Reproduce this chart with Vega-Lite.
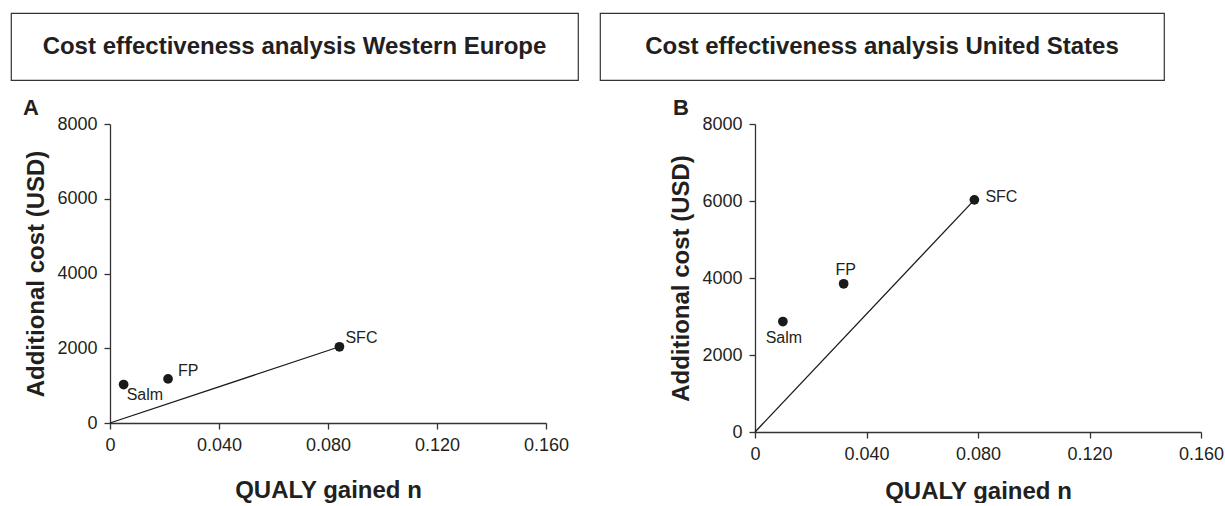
{
  "$schema": "https://vega.github.io/schema/vega-lite/v6.json",
  "padding": {"left": 10, "top": 12, "right": 0, "bottom": 0},
  "background": "white",
  "config": {
    "font": "Liberation Sans",
    "view": {"stroke": null},
    "axis": {
      "labelFont": "Liberation Sans", "labelFontSize": 18, "labelColor": "#231f20",
      "titleFont": "Liberation Sans", "titleFontSize": 24, "titleFontWeight": "bold", "titleColor": "#231f20",
      "domainColor": "#333333", "tickColor": "#333333", "tickSize": 6, "domainWidth": 1.3, "tickWidth": 1.3,
      "grid": false, "labelPadding": 7
    },
    "text": {"font": "Liberation Sans", "color": "#231f20"}
  },
  "datasets": {
    "europe": [
      {"name": "Salm", "qaly": 0.005, "cost": 1030},
      {"name": "FP", "qaly": 0.0213, "cost": 1180},
      {"name": "SFC", "qaly": 0.0842, "cost": 2040}
    ],
    "us": [
      {"name": "Salm", "qaly": 0.0100, "cost": 2870},
      {"name": "FP", "qaly": 0.0318, "cost": 3850},
      {"name": "SFC", "qaly": 0.0787, "cost": 6030}
    ]
  },
  "spacing": 16,
  "vconcat": [
    {
      "spacing": 20,
      "hconcat": [
        {
          "data": {"values": [{"label": "Cost effectiveness analysis Western Europe"}]},
          "width": 567, "height": 67,
          "view": {"stroke": "#333333", "strokeWidth": 1.2},
          "mark": {"type": "text", "fontSize": 24, "fontWeight": "bold", "align": "center", "baseline": "middle"},
          "encoding": {"text": {"field": "label"}}
        },
        {
          "data": {"values": [{"label": "Cost effectiveness analysis United States"}]},
          "width": 564, "height": 67,
          "view": {"stroke": "#333333", "strokeWidth": 1.2},
          "mark": {"type": "text", "fontSize": 24, "fontWeight": "bold", "align": "center", "baseline": "middle"},
          "encoding": {"text": {"field": "label"}}
        }
      ]
    },
    {
      "spacing": 11,
      "hconcat": [
        {
          "width": 1, "height": 1,
          "data": {"values": [{"label": ""}]},
          "mark": {"type": "text"},
          "encoding": {"text": {"field": "label"}}
        },
        {
          "spacing": 100,
          "hconcat": [
            {
              "width": 436, "height": 299,
              "title": {"text": "A", "anchor": "start", "frame": "group", "dx": -87, "fontSize": 22, "fontWeight": "bold", "color": "#231f20", "baseline": "alphabetic", "offset": -22, "font": "Liberation Sans"},
              "data": {"name": "europe"},
              "encoding": {
                "x": {"field": "qaly", "type": "quantitative", "scale": {"domain": [0, 0.16], "nice": false},
                      "axis": {"title": "QUALY gained n", "values": [0, 0.04, 0.08, 0.12, 0.16], "labelExpr": "datum.value === 0 ? '0' : format(datum.value, '.3f')", "titlePadding": 24, "labelFlush": false}},
                "y": {"field": "cost", "type": "quantitative", "scale": {"domain": [0, 8000], "nice": false},
                      "axis": {"title": "Additional cost (USD)", "values": [0, 2000, 4000, 6000, 8000], "format": "d", "titlePadding": 8}}
              },
              "layer": [
                {"transform": [{"filter": "datum.name === 'SFC'"}], "mark": {"type": "rule", "color": "#1a1a1a", "strokeWidth": 1.3},
                 "encoding": {"x2": {"datum": 0}, "y2": {"datum": 0}}},
                {"mark": {"type": "point", "filled": true, "size": 95, "color": "#1a1a1a", "opacity": 1}},
                {"transform": [{"filter": "datum.name === 'Salm'"}], "mark": {"type": "text", "align": "left", "baseline": "alphabetic", "dx": 3, "dy": 15, "fontSize": 16}, "encoding": {"text": {"field": "name"}}},
                {"transform": [{"filter": "datum.name === 'FP'"}], "mark": {"type": "text", "align": "left", "baseline": "alphabetic", "dx": 10, "dy": -3, "fontSize": 16}, "encoding": {"text": {"field": "name"}}},
                {"transform": [{"filter": "datum.name === 'SFC'"}], "mark": {"type": "text", "align": "left", "baseline": "alphabetic", "dx": 6, "dy": -4, "fontSize": 16}, "encoding": {"text": {"field": "name"}}}
              ]
            },
            {
              "width": 446, "height": 308,
              "title": {"text": "B", "anchor": "start", "frame": "group", "dx": -82, "fontSize": 22, "fontWeight": "bold", "color": "#231f20", "baseline": "alphabetic", "offset": -22, "font": "Liberation Sans"},
              "data": {"name": "us"},
              "encoding": {
                "x": {"field": "qaly", "type": "quantitative", "scale": {"domain": [0, 0.16], "nice": false},
                      "axis": {"title": "QUALY gained n", "values": [0, 0.04, 0.08, 0.12, 0.16], "labelExpr": "datum.value === 0 ? '0' : format(datum.value, '.3f')", "titlePadding": 16, "labelFlush": false}},
                "y": {"field": "cost", "type": "quantitative", "scale": {"domain": [0, 8000], "nice": false},
                      "axis": {"title": "Additional cost (USD)", "values": [0, 2000, 4000, 6000, 8000], "format": "d", "titlePadding": 8}}
              },
              "layer": [
                {"transform": [{"filter": "datum.name === 'SFC'"}], "mark": {"type": "rule", "color": "#1a1a1a", "strokeWidth": 1.3},
                 "encoding": {"x2": {"datum": 0}, "y2": {"datum": 0}}},
                {"mark": {"type": "point", "filled": true, "size": 95, "color": "#1a1a1a", "opacity": 1}},
                {"transform": [{"filter": "datum.name === 'Salm'"}], "mark": {"type": "text", "align": "center", "baseline": "alphabetic", "dx": 1, "dy": 21, "fontSize": 16}, "encoding": {"text": {"field": "name"}}},
                {"transform": [{"filter": "datum.name === 'FP'"}], "mark": {"type": "text", "align": "center", "baseline": "alphabetic", "dx": 2, "dy": -9, "fontSize": 16}, "encoding": {"text": {"field": "name"}}},
                {"transform": [{"filter": "datum.name === 'SFC'"}], "mark": {"type": "text", "align": "left", "baseline": "alphabetic", "dx": 11, "dy": 2, "fontSize": 16}, "encoding": {"text": {"field": "name"}}}
              ]
            }
          ]
        }
      ]
    }
  ]
}
